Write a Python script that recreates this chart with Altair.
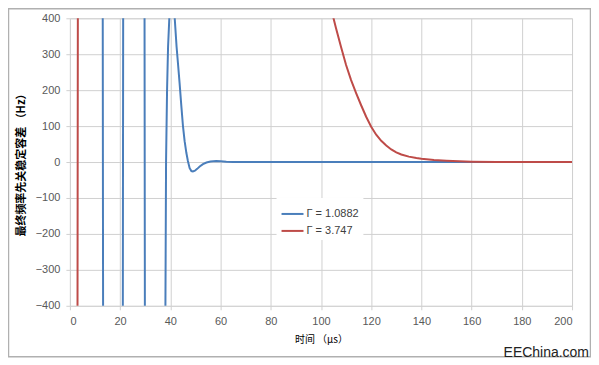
import altair as alt
import pandas as pd

# ---- data ----
blue_label = "Γ = 1.0882"
red_label = "Γ = 3.747"

blue_x = [0, 12.95, 13.35, 20.95, 21.35, 29.6, 30.0, 37.8, 38.05, 38.3, 38.7, 39.1, 39.6,
          40.2, 40.7, 41.2, 41.75, 42.5, 43.1, 43.7, 44.4, 45.05, 45.7, 46.4, 47.0, 47.7,
          48.4, 49.0, 49.8, 50.7, 51.7, 53.0, 54.4, 56.0, 58.3, 60.0, 62.3, 65.0, 80, 120, 160, 200]
blue_y = [1200, 1200, -1200, -1200, 1200, 1200, -1200, -1000, -400, 0, 200, 320, 400,
          480, 510, 480, 400, 320, 270, 219, 155, 99, 58, 25, 3, -17,
          -25, -26, -24, -19, -12.5, -6, -1.4, 1.5, 3, 2.5, 0.8, 0, 0, 0, 0, 0]

red_x = [0, 2.9, 3.3, 60, 100, 103, 105, 106, 108, 110, 112, 114, 116, 118, 120, 122, 124,
         126, 128, 130, 132, 135, 138, 140, 145, 150, 155, 160, 170, 180, 200]
red_y = [-1200, -1200, 1200, 1200, 1200, 500, 400, 372, 320, 270, 228, 192, 158, 126, 98, 76, 59,
         46, 35, 27, 21, 15, 11, 9, 5.5, 3.5, 2, 1, 0.3, 0, 0]

x_ticks = list(range(0, 201, 20))
y_ticks = list(range(-400, 401, 100))

df = pd.concat([
    pd.DataFrame({"t": blue_x, "v": blue_y, "s": blue_label, "o": range(len(blue_x))}),
    pd.DataFrame({"t": red_x, "v": red_y, "s": red_label, "o": range(len(red_x))}),
])

grid = "#d0d0d0"
lab = "#595959"

lines = alt.Chart(df).mark_line(clip=True, strokeWidth=2).encode(
    x=alt.X("t:Q", scale=alt.Scale(domain=[0, 200], nice=False),
            axis=alt.Axis(values=x_ticks, title="时间 （μs）", grid=True, gridColor=grid,
                          domain=False, tickColor=grid, tickSize=4, labelColor=lab,
                          labelFontSize=11, labelPadding=6, titleFontSize=10,
                          titleFont="Noto Sans CJK SC", titleFontWeight="normal",
                          titleColor="#000000", titlePadding=8)),
    y=alt.Y("v:Q", scale=alt.Scale(domain=[-400, 400], nice=False),
            axis=alt.Axis(values=y_ticks, title="最终频率先关稳定容差 （Hz）", grid=True,
                          gridColor=grid, domain=False, tickColor=grid, tickSize=4,
                          labelColor=lab, labelFontSize=11, labelPadding=6,
                          titleFontSize=11, titleFont="Noto Sans CJK SC",
                          titleFontWeight="bold", titleColor="#000000", titlePadding=9)),
    color=alt.Color("s:N", scale=alt.Scale(domain=[blue_label, red_label],
                                           range=["#4A7EBB", "#BE4B48"]),
                    legend=alt.Legend(title=None, orient="none", legendX=207, legendY=180,
                                      fillColor="white", padding=4, symbolType="stroke",
                                      symbolSize=484, symbolStrokeWidth=2, labelFontSize=11,
                                      labelColor="#404040", rowPadding=0, labelOffset=2)),
    order="o:Q",
)

one = pd.DataFrame({"k": [0]})
frame = alt.Chart(one).mark_rect(fill=None, stroke="#b0b0b0", strokeWidth=1.5, clip=False).encode(
    x=alt.value(-61.5), x2=alt.value(521.5), y=alt.value(-9.5), y2=alt.value(339)
)
mark = alt.Chart(one).mark_text(text="EEChina.com", align="right", baseline="alphabetic",
                                fontSize=14, font="Liberation Sans", color="#222222").encode(
    x=alt.value(520), y=alt.value(339)
)

chart = alt.layer(frame, lines, mark).properties(
    width=503, height=288,
    autosize=alt.AutoSizeParams(type="none"),
    padding={"left": 62, "top": 10, "right": 19, "bottom": 53},
).configure_view(stroke=None).configure(font="Liberation Sans")

chart.save("out.html", embed_options={"renderer": "svg", "actions": False})
